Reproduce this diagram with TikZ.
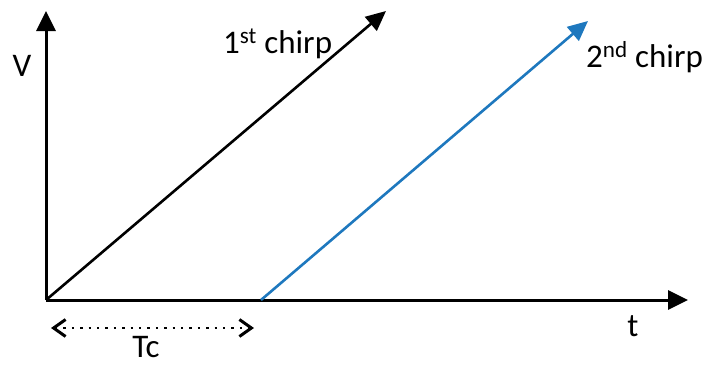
\documentclass[tikz,border=0pt]{standalone}
\usepackage{fontspec}
\setmainfont{Carlito}
\usetikzlibrary{arrows.meta}
\definecolor{chirpblue}{RGB}{30,120,190}
\tikzset{
  axis/.style={line width=3pt,-{Triangle[length=20pt,width=19pt]}},
  chirp/.style={line width=2.6pt,-{Triangle[length=20pt,width=18pt]}},
  span/.style={line width=2.4pt,dash pattern=on 2.4pt off 6pt,{Straight Barb[length=12pt,width=17pt,line width=3pt]}-{Straight Barb[length=12pt,width=17pt,line width=3pt]}},
  lbl/.style={font=\fontsize{33}{38}\selectfont,inner sep=0pt}
}
\begin{document}
\begin{tikzpicture}[x=1pt,y=-1pt]
\useasboundingbox (0,0) rectangle (703,367);
\coordinate (O) at (46,300);
\coordinate (ytop) at (46,11);
\coordinate (xend) at (688,300);
\coordinate (s2) at (261,300);
\coordinate (c1end) at (386,11);
\coordinate (c2end) at (588,21);
\coordinate (tcl) at (51,328);
\coordinate (tcr) at (254,328);
\draw[axis] (O) -- (ytop);
\draw[axis] (O) -- (xend);
\draw[chirp] (O) -- (c1end);
\draw[chirp,chirpblue] (s2) -- (c2end);
\draw[span] (tcl) -- (tcr);
\node[lbl] (V) at (22,66) {V};
\node[lbl] (t) at (633,326) {t};
\node[lbl,anchor=base] (Tc) at (146,357) {Tc};
\node[lbl,anchor=base west] (c1) at (223,53) {1\textsuperscript{st} chirp};
\node[lbl,anchor=base west] (c2) at (586,67) {2\textsuperscript{nd} chirp};
\end{tikzpicture}
\end{document}
